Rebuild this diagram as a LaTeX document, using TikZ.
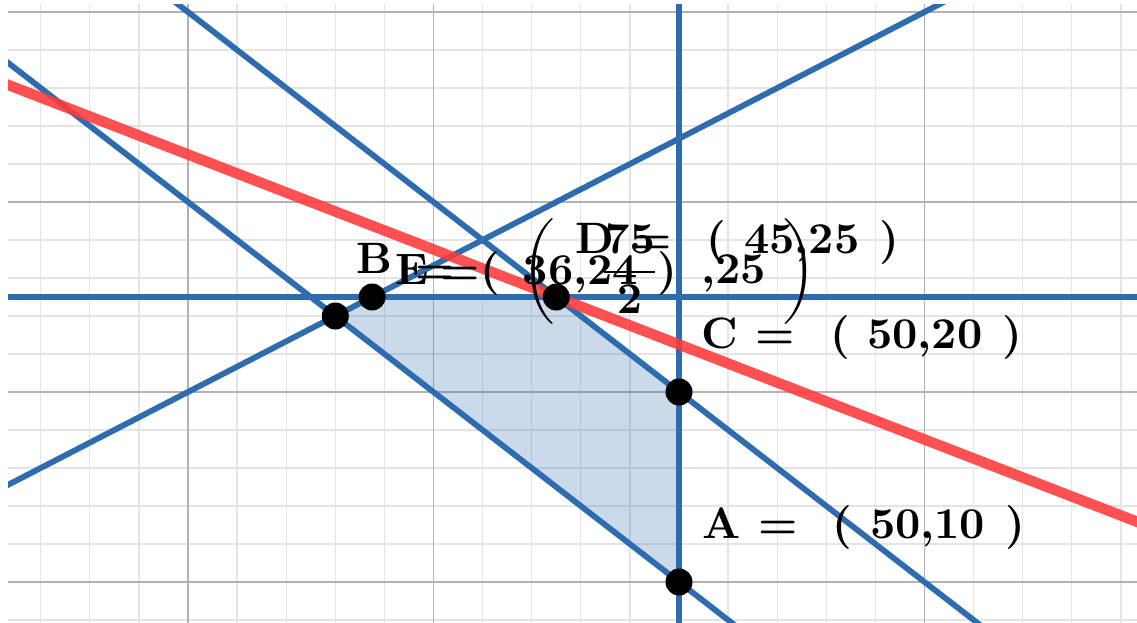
\documentclass[tikz,border=0pt]{standalone}
\usepackage{amsmath}
\usetikzlibrary{calc}
\definecolor{gridminor}{RGB}{228,228,228}
\definecolor{gridmajor}{RGB}{178,178,178}
\definecolor{ggblue}{RGB}{46,108,176}
\definecolor{ggred}{RGB}{255,58,58}
\newcommand{\fracBval}{$\displaystyle\frac{\mathbf{75}}{\mathbf{2}}$}
\begin{document}
\begin{tikzpicture}[x=1pt,y=-1pt,
  lbl/.style={anchor=base west, inner sep=0pt, scale=4.4, font=\bfseries},
  dot/.style={circle, fill=black, inner sep=0pt, minimum size=27pt},
  minorgrid/.style={draw=gridminor, line width=1.3pt},
  majorgrid/.style={draw=gridmajor, line width=1.8pt},
  bluel/.style={draw=ggblue, line width=5.8pt},
  redl/.style={draw=ggred, line width=10.5pt, draw opacity=0.88},
  region/.style={fill=ggblue, fill opacity=0.25}]
\useasboundingbox (0,0) rectangle (1137,623);
\fill[white] (0,0) rectangle (1137,623);
\begin{scope}
  \clip (8,5) rectangle (1137,623);
  \begin{scope}[shift={(-548.5pt,-772pt)}, x=24.55pt, y=19pt]
    % grid
    \draw[minorgrid] (20,6) grid[step=2] (70,42);
    \draw[majorgrid] (20,6) grid[step=10] (70,42);
    % corner points
    \coordinate (pE) at (36,24);
    \coordinate (pB) at (37.5,25);
    \coordinate (pD) at (45,25);
    \coordinate (pC) at (50,20);
    \coordinate (pA) at (50,10);
    % feasible region
    \fill[region] (pB) -- (pD) -- (pC) -- (pA) -- (pE) -- cycle;
    % constraint lines
    \coordinate (v1) at (50,0);  \coordinate (v2) at (50,50);
    \coordinate (h1) at (0,25);  \coordinate (h2) at (80,25);
    \coordinate (s1) at (10,50); \coordinate (s2) at (60,0);
    \coordinate (t1) at (20,50); \coordinate (t2) at (70,0);
    \coordinate (u1) at (0,0);   \coordinate (u2) at (75,50);
    \coordinate (r1) at (0,47.5); \coordinate (r2) at (80,7.5);
    \draw[bluel] (v1) -- (v2);
    \draw[bluel] (h1) -- (h2);
    \draw[bluel] (s1) -- (s2);
    \draw[bluel] (t1) -- (t2);
    \draw[bluel] (u1) -- (u2);
    % objective line
    \draw[redl] (r1) -- (r2);
    % points
    \node[dot] (E) at (pE) {};
    \node[dot] (B) at (pB) {};
    \node[dot] (D) at (pD) {};
    \node[dot] (C) at (pC) {};
    \node[dot] (A) at (pA) {};
  \end{scope}
\end{scope}
% labels
\node[lbl] (labB) at (356,273) {B};
\node[lbl] (valB) at (415,283) {=\hspace{15.3pt}$\bigg($\hspace{10pt}\fracBval\hspace{9.3pt},25\hspace{4pt}$\bigg)$};
\node[lbl] (labE) at (395,284) {E\hspace{2.7pt}=(\hspace{5.2pt}36,24\hspace{4.5pt})};
\node[lbl] (labD) at (575,253) {D\hspace{4.1pt}=\hspace{7.9pt}(\hspace{4pt}45,25\hspace{4.5pt})};
\node[lbl] (labC) at (700.5,348) {C\hspace{4.1pt}=\hspace{7.9pt}(\hspace{4pt}50,20\hspace{4.5pt})};
\node[lbl] (labA) at (701.5,538) {A\hspace{4.1pt}=\hspace{7.9pt}(\hspace{4pt}50,10\hspace{4.5pt})};
\end{tikzpicture}
\end{document}
